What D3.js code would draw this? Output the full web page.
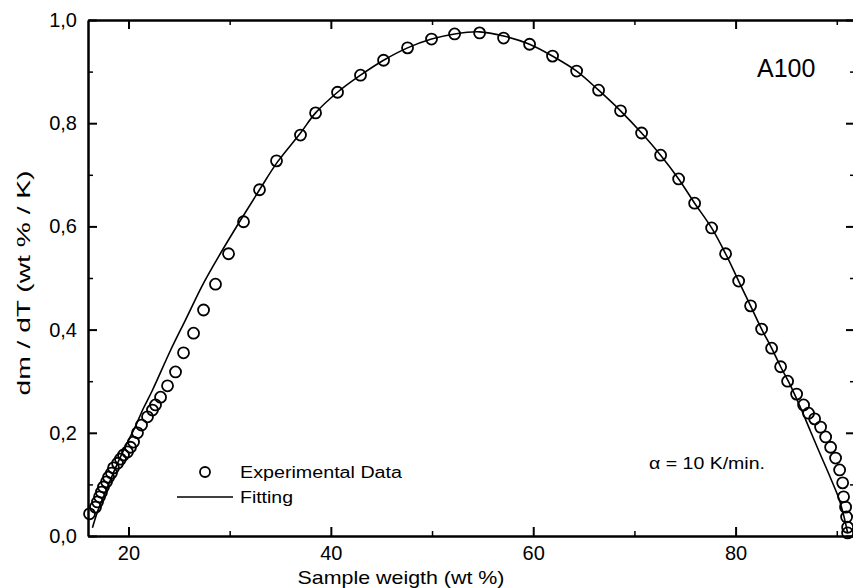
<!DOCTYPE html>
<html>
<head>
<meta charset="utf-8">
<script src="https://cdn.jsdelivr.net/npm/d3@7"></script>
<style>
  body { margin: 0; background: #fff; }
  svg { display: block; }
  text { font-family: "Liberation Sans", Arial, sans-serif; fill: #000; }
</style>
</head>
<body>
<script>
// experimental points (wt %, dm/dT)
var expX = [16.15, 16.74, 16.94, 17.14, 17.33, 17.53, 17.83, 18.03, 18.32, 18.52, 18.92, 19.21, 19.51, 19.90,
    20.20, 20.50, 20.89, 21.29, 21.88, 22.37, 22.67, 23.17, 23.86, 24.65, 25.44, 26.43, 27.42, 28.60, 29.89,
    31.37, 32.95, 34.63, 37.00, 38.49, 40.66, 42.93, 45.21, 47.58, 49.95, 52.23, 54.70, 57.07, 59.64, 61.91,
    64.29, 66.46, 68.63, 70.71, 72.59, 74.37, 75.95, 77.63, 79.01, 80.30, 81.48, 82.57, 83.56, 84.45, 85.14,
    86.03, 86.72, 87.21, 87.81, 88.40, 88.90, 89.39, 89.88, 90.28, 90.58, 90.67, 90.87, 90.97, 91.07, 91.07];
var expY = [0.043, 0.056, 0.066, 0.076, 0.085, 0.095, 0.105, 0.114, 0.122, 0.132, 0.141, 0.149, 0.157, 0.163,
    0.172, 0.182, 0.200, 0.215, 0.231, 0.244, 0.254, 0.269, 0.291, 0.318, 0.355, 0.393, 0.438, 0.488, 0.547,
    0.609, 0.671, 0.727, 0.777, 0.820, 0.860, 0.893, 0.922, 0.946, 0.963, 0.973, 0.975, 0.965, 0.953, 0.930,
    0.901, 0.864, 0.824, 0.781, 0.738, 0.692, 0.645, 0.597, 0.547, 0.494, 0.446, 0.401, 0.364, 0.328, 0.300,
    0.275, 0.254, 0.238, 0.227, 0.211, 0.192, 0.172, 0.151, 0.128, 0.103, 0.076, 0.056, 0.037, 0.017, 0.006];

// fitted curve
var fitX = [16.44, 16.94, 17.73, 18.72, 19.71, 20.60, 21.49, 22.38, 24.16, 25.64, 27.42, 29.10, 31.07, 32.95,
    34.73, 37.00, 38.49, 40.66, 42.93, 45.21, 47.58, 49.95, 52.23, 54.70, 57.07, 59.64, 61.91, 64.29, 66.46,
    68.63, 70.71, 72.59, 74.37, 75.95, 77.63, 79.01, 80.30, 81.48, 82.57, 83.56, 84.45, 85.44, 86.43, 87.42,
    88.40, 89.39, 90.18, 90.67, 91.07];
var fitY = [0.016, 0.047, 0.085, 0.132, 0.174, 0.209, 0.248, 0.283, 0.360, 0.419, 0.490, 0.548, 0.612, 0.671,
    0.725, 0.781, 0.820, 0.860, 0.893, 0.922, 0.946, 0.963, 0.973, 0.977, 0.969, 0.953, 0.930, 0.901, 0.864,
    0.824, 0.781, 0.738, 0.692, 0.645, 0.597, 0.547, 0.494, 0.446, 0.401, 0.364, 0.328, 0.291, 0.248, 0.202,
    0.157, 0.112, 0.074, 0.041, 0.006];

var xTicks = [20, 40, 60, 80];
var xMinor = [30, 50, 70, 90];
var yTicks = [0, 0.2, 0.4, 0.6, 0.8, 1.0];
var yMinor = [0.1, 0.3, 0.5, 0.7, 0.9];

var width = 853
var height = 588
var mLeft = 88, mTop = 20, mRight = 855, mBottom = 536;

const svg = d3.select("body").append("svg")
    .attr("width", width)
    .attr("height", height);

var x = d3.scaleLinear().domain([16, 91.8]).range([mLeft, mRight]);
var y = d3.scaleLinear().domain([0, 1]).range([mBottom, mTop]);

var fmt = d => d3.format(".1f")(d).replace(".", ",");

function styleAxis(g, labels) {
    g.select(".domain").attr("stroke-width", 2.5);
    g.selectAll(".tick line").attr("stroke-width", 2);
    if (labels) g.selectAll("text").attr("font-size", 20).attr("font-family", "Liberation Sans, Arial, sans-serif");
}

function minorAxis(g) {
    g.select(".domain").remove();
    g.selectAll(".tick line").attr("stroke-width", 1.5);
}

// axes (ticks pointing inward)
svg.append("g")
    .attr("transform", `translate(0,${mBottom})`)
    .call(d3.axisBottom(x).tickValues(xTicks).tickSizeInner(-9).tickSizeOuter(0).tickPadding(10).tickFormat(d3.format("d")))
    .call(g => styleAxis(g, true));
svg.append("g")
    .attr("transform", `translate(0,${mBottom})`)
    .call(d3.axisBottom(x).tickValues(xMinor).tickSizeInner(-5).tickSizeOuter(0).tickFormat(""))
    .call(minorAxis);

svg.append("g")
    .attr("transform", `translate(0,${mTop})`)
    .call(d3.axisTop(x).tickValues(xTicks).tickSizeInner(-9).tickSizeOuter(0).tickFormat(""))
    .call(g => styleAxis(g, false));
svg.append("g")
    .attr("transform", `translate(0,${mTop})`)
    .call(d3.axisTop(x).tickValues(xMinor).tickSizeInner(-5).tickSizeOuter(0).tickFormat(""))
    .call(minorAxis);

svg.append("g")
    .attr("transform", `translate(${mLeft},0)`)
    .call(d3.axisLeft(y).tickValues(yTicks).tickSizeInner(-9).tickSizeOuter(0).tickPadding(11).tickFormat(fmt))
    .call(g => styleAxis(g, true));
svg.append("g")
    .attr("transform", `translate(${mLeft},0)`)
    .call(d3.axisLeft(y).tickValues(yMinor).tickSizeInner(-5).tickSizeOuter(0).tickFormat(""))
    .call(minorAxis);

svg.append("g")
    .attr("transform", `translate(${mRight},0)`)
    .call(d3.axisRight(y).tickValues(yTicks).tickSizeInner(-9).tickSizeOuter(0).tickFormat(""))
    .call(g => styleAxis(g, false));
svg.append("g")
    .attr("transform", `translate(${mRight},0)`)
    .call(d3.axisRight(y).tickValues(yMinor).tickSizeInner(-5).tickSizeOuter(0).tickFormat(""))
    .call(minorAxis);

// fitting line
var line = d3.line()
    .x((d, i) => x(fitX[i]))
    .y((d, i) => y(fitY[i]))
    .curve(d3.curveCatmullRom);

svg.append("path")
    .datum(fitX)
    .attr("d", line)
    .attr("fill", "none")
    .attr("stroke", "black")
    .attr("stroke-width", 1.6);

// experimental circles
svg.append("g")
    .selectAll("circle")
    .data(expX)
    .enter()
    .append("circle")
    .attr("cx", (d, i) => x(d))
    .attr("cy", (d, i) => y(expY[i]))
    .attr("r", 5.5)
    .attr("fill", "none")
    .attr("stroke", "black")
    .attr("stroke-width", 1.8);

// axis titles
svg.append("text")
    .attr("x", 401)
    .attr("y", 584)
    .attr("text-anchor", "middle")
    .attr("font-size", 19)
    .attr("textLength", 207)
    .attr("lengthAdjust", "spacingAndGlyphs")
    .text("Sample weigth (wt %)");

svg.append("text")
    .attr("transform", "translate(30,283) rotate(-90)")
    .attr("text-anchor", "middle")
    .attr("font-size", 19)
    .attr("textLength", 225)
    .attr("lengthAdjust", "spacingAndGlyphs")
    .text("dm / dT  (wt % / K)");

// legend
svg.append("circle")
    .attr("cx", 205).attr("cy", 472).attr("r", 5)
    .attr("fill", "none").attr("stroke", "black").attr("stroke-width", 1.8);
svg.append("text")
    .attr("x", 240).attr("y", 478)
    .attr("font-size", 16)
    .attr("textLength", 162)
    .attr("lengthAdjust", "spacingAndGlyphs")
    .text("Experimental Data");
svg.append("line")
    .attr("x1", 177).attr("x2", 233).attr("y1", 497).attr("y2", 497)
    .attr("stroke", "black").attr("stroke-width", 1.6);
svg.append("text")
    .attr("x", 240).attr("y", 503)
    .attr("font-size", 16)
    .attr("textLength", 53)
    .attr("lengthAdjust", "spacingAndGlyphs")
    .text("Fitting");

svg.append("text")
    .attr("x", 649).attr("y", 469)
    .attr("font-size", 16)
    .attr("textLength", 116)
    .attr("lengthAdjust", "spacingAndGlyphs")
    .text("α = 10 K/min.");

svg.append("text")
    .attr("x", 757).attr("y", 77)
    .attr("font-size", 25)
    .text("A100");
</script>
</body>
</html>
